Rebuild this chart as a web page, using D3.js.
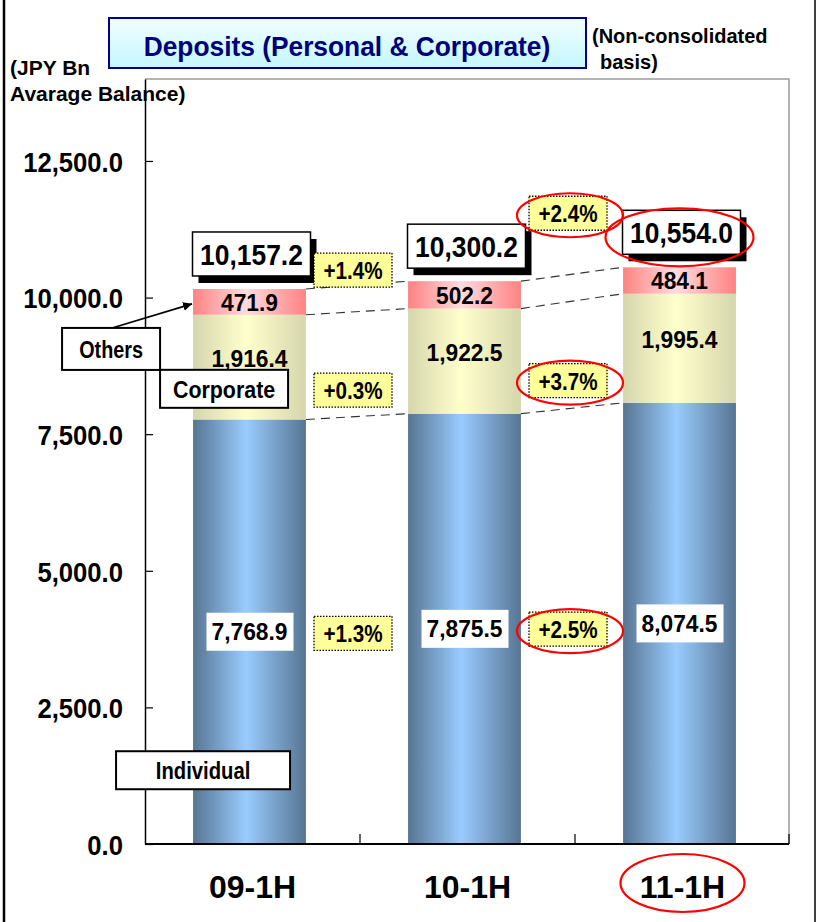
<!DOCTYPE html>
<html>
<head>
<meta charset="utf-8">
<script src="https://cdn.jsdelivr.net/npm/d3@7"></script>
<style>
    body { margin: 0; background: #fff; }
    text { font-family: "Liberation Sans", Arial, sans-serif; }
</style>
</head>
<body>
<div id="main"></div>
<script>
// chart data
const categories = ["09-1H", "10-1H", "11-1H"];
const individual = [7768.9, 7875.5, 8074.5];
const corporate = [1916.4, 1922.5, 1995.4];
const others = [471.9, 502.2, 484.1];
const totals = [10157.2, 10300.2, 10554.0];
const layerNames = ["Individual", "Corporate", "Others"];
const changeTotal = ["+1.4%", "+2.4%"];
const changeCorporate = ["+0.3%", "+3.7%"];
const changeIndividual = ["+1.3%", "+2.5%"];
const yTicks = [0, 2500, 5000, 7500, 10000, 12500];

onload = () => {
    const d3 = window.d3;
    const W = 817, H = 922;
    let svg = d3.select("#main").append("svg").attr("width", W).attr("height", H);
    const m = { left: 145, right: 789, top: 79, bottom: 844 };

    // squeeze text a bit, the original font is a narrow gothic
    function condense(sel, k) {
        sel.each(function () {
            const n = this.getComputedTextLength();
            d3.select(this).attr("textLength", n * k).attr("lengthAdjust", "spacingAndGlyphs");
        });
    }

    let x = d3.scaleBand().domain(categories).range([m.left, m.right + 1]);
    let y = d3.scaleLinear().domain([0, 14000]).range([m.bottom, m.top]);
    const barW = x.bandwidth() * 0.525;
    const bx = (c) => x(c) + (x.bandwidth() - barW) / 2 - 3;
    const bc = (c) => bx(c) + barW / 2;

    // gradients
    let defs = svg.append("defs");
    const grads = {
        Individual: ["#577592", "#99ccff", "#577592"],
        Corporate: ["#d6d6ae", "#ffffcc", "#d6d6ae"],
        Others: ["#ff8282", "#ffdcde", "#ff8282"]
    };
    Object.entries(grads).forEach(([k, cols]) => {
        let g = defs.append("linearGradient").attr("id", "g-" + k)
            .attr("x1", 0).attr("x2", 1).attr("y1", 0).attr("y2", 0);
        g.append("stop").attr("offset", "0%").attr("stop-color", cols[0]);
        g.append("stop").attr("offset", "47%").attr("stop-color", cols[1]);
        g.append("stop").attr("offset", "100%").attr("stop-color", cols[2]);
    });
    let tg = defs.append("linearGradient").attr("id", "g-title")
        .attr("x1", 0).attr("x2", 0).attr("y1", 0).attr("y2", 1);
    tg.append("stop").attr("offset", "0%").attr("stop-color", "#f2ffff");
    tg.append("stop").attr("offset", "100%").attr("stop-color", "#c4f6ff");
    defs.append("marker").attr("id", "arrow").attr("viewBox", "0 0 10 10")
        .attr("refX", 10).attr("refY", 5).attr("markerWidth", 9).attr("markerHeight", 9)
        .attr("orient", "auto").attr("markerUnits", "userSpaceOnUse")
        .append("path").attr("d", "M0,0L10,5L0,10z").attr("fill", "#000");

    // outer frame
    svg.append("line").attr("x1", 4).attr("x2", 4).attr("y1", 0).attr("y2", H).attr("stroke", "#000").attr("stroke-width", 2.5);
    svg.append("line").attr("x1", 815).attr("x2", 815).attr("y1", 0).attr("y2", H).attr("stroke", "#000").attr("stroke-width", 1.5);

    // plot frame (top and right in grey)
    svg.append("path")
        .attr("d", `M${m.left},${m.top}H${m.right}V${m.bottom}`)
        .attr("fill", "none").attr("stroke", "#9a9a9a").attr("stroke-width", 1.5);

    // y axis
    let yAxis = d3.axisLeft(y).tickValues(yTicks).tickFormat(d3.format(",.1f"))
        .tickSizeInner(-8).tickSizeOuter(0).tickPadding(22);
    let yg = svg.append("g").attr("transform", `translate(${m.left},0)`).call(yAxis);
    yg.attr("font-family", null);
    yg.select(".domain").attr("stroke", "#000").attr("stroke-width", 1.5);
    yg.selectAll(".tick line").attr("stroke", "#000").attr("stroke-width", 1.2);
    yg.selectAll(".tick text").attr("font-size", 27).attr("font-weight", "bold")
        .attr("fill", "#000").attr("dy", "0.38em");
    condense(yg.selectAll(".tick text"), 0.95);

    // stacked bars
    let rows = categories.map((c, i) => ({
        cat: c, Individual: individual[i], Corporate: corporate[i], Others: others[i]
    }));
    let series = d3.stack().keys(layerNames)(rows);

    let layers = svg.selectAll(".layer").data(series).enter().append("g").classed("layer", true)
        .attr("fill", (s) => `url(#g-${s.key})`);
    layers.selectAll("rect").data((s) => s).enter().append("rect")
        .attr("x", (d) => bx(d.data.cat))
        .attr("y", (d) => y(d[1]))
        .attr("width", barW)
        .attr("height", (d) => y(d[0]) - y(d[1]));

    // x axis
    svg.append("line").attr("x1", m.left).attr("x2", m.right).attr("y1", m.bottom).attr("y2", m.bottom)
        .attr("stroke", "#000").attr("stroke-width", 2);
    let bounds = categories.slice(1).map((c) => x(c)).concat([m.right]);
    svg.selectAll(".xtick").data(bounds).enter().append("line").classed("xtick", true)
        .attr("x1", (d) => d).attr("x2", (d) => d)
        .attr("y1", m.bottom).attr("y2", m.bottom - 10)
        .attr("stroke", "#000").attr("stroke-width", 1.2);
    svg.selectAll(".xlab").data(categories).enter().append("text").classed("xlab", true)
        .attr("x", (c) => x(c) + x.bandwidth() / 2)
        .attr("y", 898)
        .attr("text-anchor", "middle")
        .attr("font-size", 32).attr("font-weight", "bold")
        .text((c) => c);

    // dashed series lines between bars
    series.forEach((s) => {
        for (let i = 0; i < categories.length - 1; i++) {
            svg.append("line")
                .attr("x1", bx(categories[i]) + barW).attr("y1", y(s[i][1]))
                .attr("x2", bx(categories[i + 1])).attr("y2", y(s[i + 1][1]))
                .attr("stroke", "#333").attr("stroke-width", 1.1).attr("stroke-dasharray", "9,6");
        }
    });

    const mid = (d) => y((d[0] + d[1]) / 2);

    // individual values in white boxes
    let ind = svg.selectAll(".indlab").data(series[0]).enter().append("g").classed("indlab", true)
        .attr("transform", (d) => `translate(${bc(d.data.cat)},${mid(d)})`);
    ind.append("rect").attr("x", -43).attr("y", -19).attr("width", 87).attr("height", 38).attr("fill", "#fff");
    ind.append("text").attr("text-anchor", "middle").attr("dy", "0.36em")
        .attr("font-size", 24).attr("font-weight", "bold")
        .text((d) => d3.format(",.1f")(d[1] - d[0]));
    condense(ind.selectAll("text"), 0.95);

    // corporate and others values (corporate sits a little high, as in the original)
    [[series[1], -9], [series[2], 0]].forEach(([s, dy]) => {
        let t = svg.selectAll(null).data(s).enter().append("text")
            .attr("x", (d) => bc(d.data.cat)).attr("y", (d) => mid(d) + dy)
            .attr("dy", "0.36em").attr("text-anchor", "middle")
            .attr("font-size", 24).attr("font-weight", "bold")
            .text((d) => d3.format(",.1f")(d[1] - d[0]));
        condense(t, 0.95);
    });

    // totals with drop shadow
    let tot = svg.selectAll(".totlab").data(totals).enter().append("g").classed("totlab", true)
        .attr("transform", (d, i) => `translate(${bc(categories[i]) + 2},${y(d) - 35})`);
    tot.append("rect").attr("x", -59 + 6).attr("y", -22 + 7).attr("width", 118).attr("height", 44).attr("fill", "#000");
    tot.append("rect").attr("x", -59).attr("y", -22).attr("width", 118).attr("height", 44)
        .attr("fill", "#fff").attr("stroke", "#000").attr("stroke-width", 1.5);
    tot.append("text").attr("text-anchor", "middle").attr("dy", "0.37em")
        .attr("font-size", 30).attr("font-weight", "bold")
        .text((d) => d3.format(",.1f")(d));
    condense(tot.selectAll("text"), 0.88);

    // change labels between bars
    const totalNudge = [-15, -61];
    let changes = [];
    for (let i = 0; i < categories.length - 1; i++) {
        const px = x(categories[i + 1]) - 7;
        changes.push({ x: px, y: (y(totals[i]) + y(totals[i + 1])) / 2 + totalNudge[i], t: changeTotal[i], pair: i });
        changes.push({ x: px, y: (mid(series[1][i]) + mid(series[1][i + 1])) / 2 + 26, t: changeCorporate[i], pair: i });
        changes.push({ x: px, y: (mid(series[0][i]) + mid(series[0][i + 1])) / 2 + 3, t: changeIndividual[i], pair: i });
    }
    let chg = svg.selectAll(".chg").data(changes).enter().append("g").classed("chg", true)
        .attr("transform", (d) => `translate(${d.x},${d.y})`);
    chg.append("rect").attr("x", -39).attr("y", -17).attr("width", 78).attr("height", 34)
        .attr("fill", "#ffff99").attr("stroke", "#000").attr("stroke-width", 1.3).attr("stroke-dasharray", "1.5,1.5");
    chg.append("text").attr("text-anchor", "middle").attr("dy", "0.38em")
        .attr("font-size", 24).attr("font-weight", "bold").text((d) => d.t);
    condense(chg.selectAll("text"), 0.86);

    // callout labels for the layers
    const b0 = bx(categories[0]);
    function callout(label, cx, cy, w, h, k) {
        let g = svg.append("g").attr("transform", `translate(${cx},${cy})`);
        g.append("rect").attr("x", -w / 2).attr("y", -h / 2).attr("width", w).attr("height", h)
            .attr("fill", "#fff").attr("stroke", "#000").attr("stroke-width", 2);
        let t = g.append("text").attr("text-anchor", "middle").attr("dy", "0.38em")
            .attr("font-size", 23).attr("font-weight", "bold").text(label);
        condense(t, k);
    }
    svg.append("line")
        .attr("x1", b0 - 81).attr("y1", y(9060) - 21)
        .attr("x2", b0 - 1).attr("y2", mid(series[2][0]) + 2)
        .attr("stroke", "#000").attr("stroke-width", 1.6).attr("marker-end", "url(#arrow)");
    callout("Others", b0 - 82, y(9060), 98, 42, 0.86);
    callout("Corporate", b0 + 31, y(8330), 128, 38, 0.93);
    callout("Individual", b0 + 10, y(1350), 174, 38, 0.88);

    // red highlight rings on the latest period
    const last = categories.length - 1;
    let rings = [];
    chg.filter((d) => d.pair === last - 1).each((d) => rings.push({ cx: d.x + 2, cy: d.y + 2, rx: 53, ry: 22 }));
    rings.push({ cx: bc(categories[last]), cy: y(totals[last]) - 35 + 5, rx: 74, ry: 29 });
    rings.push({ cx: x(categories[last]) + x.bandwidth() / 2, cy: 883, rx: 62, ry: 29 });
    svg.selectAll(".ring").data(rings).enter().append("ellipse").classed("ring", true)
        .attr("cx", (d) => d.cx).attr("cy", (d) => d.cy).attr("rx", (d) => d.rx).attr("ry", (d) => d.ry)
        .attr("fill", "none").attr("stroke", "#ff0000").attr("stroke-width", 2.2);

    // title and notes
    svg.append("rect").attr("x", 109).attr("y", 18).attr("width", 477).attr("height", 50)
        .attr("fill", "url(#g-title)").attr("stroke", "#00008b").attr("stroke-width", 2);
    let title = svg.append("text").attr("x", 347).attr("y", 56).attr("text-anchor", "middle")
        .attr("font-size", 28).attr("font-weight", "bold").attr("fill", "#00007a")
        .text("Deposits (Personal & Corporate)");
    condense(title, 0.94);

    const notes = [
        { t: "(Non-consolidated", x: 592, y: 43, k: 1.0 },
        { t: "basis)", x: 600, y: 69, k: 1.0 },
        { t: "(JPY Bn", x: 10, y: 75, k: 1.05 },
        { t: "Avarage Balance)", x: 10, y: 101, k: 1.05 }
    ];
    let nt = svg.selectAll(".note").data(notes).enter().append("text").classed("note", true)
        .attr("x", (d) => d.x).attr("y", (d) => d.y)
        .attr("font-size", 20).attr("font-weight", "bold")
        .text((d) => d.t);
    nt.each(function (d) {
        const len = this.getComputedTextLength();
        d3.select(this).attr("textLength", len * d.k).attr("lengthAdjust", "spacingAndGlyphs");
    });
};
</script>
</body>
</html>
